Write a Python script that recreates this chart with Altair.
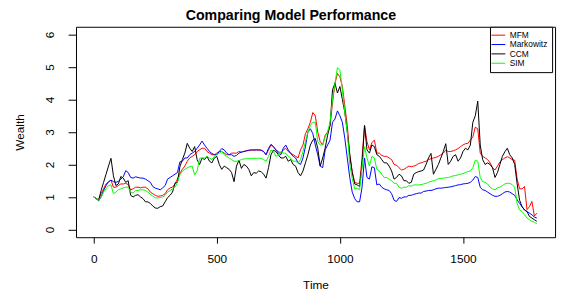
import altair as alt
import pandas as pd

# ---- data ----
# readings every 20 time steps
time_points = list(range(0, 1801, 20))

mfm = [1.00, 0.92, 1.25, 1.45, 1.30, 1.35, 1.40, 1.38, 1.25, 1.30,
       1.30, 1.25, 1.10, 1.02, 1.05, 1.22, 1.30, 1.55, 1.85, 2.10,
       2.25, 2.40, 2.50, 2.40, 2.30, 2.35, 2.40, 2.30, 2.35, 2.35,
       2.38, 2.42, 2.44, 2.45, 2.44, 2.30, 2.60, 2.45, 2.35, 2.50,
       2.35, 2.25, 2.45, 2.95, 3.30, 3.50, 2.70, 2.90, 3.20, 4.50,
       4.70, 3.80, 2.30, 1.45, 1.42, 3.20, 2.45, 2.75, 2.35, 2.25,
       2.20, 2.00, 1.90, 1.85, 1.95, 1.95, 2.03, 2.08, 2.15, 2.20,
       2.25, 2.35, 2.40, 2.42, 2.49, 2.60, 2.65, 2.85, 3.10, 2.25,
       2.15, 1.90, 1.95, 2.15, 2.24, 2.15, 1.55, 1.25, 0.61, 0.86,
       0.50]

markowitz = [1.00, 0.88, 1.20, 1.47, 1.47, 1.48, 1.62, 1.75, 1.58, 1.60,
             1.58, 1.50, 1.32, 1.25, 1.28, 1.55, 1.65, 1.75, 2.10, 2.20,
             2.35, 2.50, 2.72, 2.50, 2.34, 2.30, 2.49, 2.35, 2.30, 2.28,
             2.38, 2.42, 2.45, 2.45, 2.44, 2.30, 2.62, 2.45, 2.30, 2.60,
             2.34, 2.20, 2.00, 2.55, 3.10, 2.60, 1.95, 2.45, 2.75, 3.40,
             3.50, 2.80, 1.60, 0.95, 0.85, 2.20, 1.55, 1.90, 1.40, 1.25,
             1.20, 0.90, 0.98, 1.00, 1.05, 1.08, 1.12, 1.17, 1.20, 1.22,
             1.27, 1.28, 1.30, 1.33, 1.37, 1.40, 1.42, 1.52, 1.60, 1.22,
             1.15, 1.05, 1.02, 1.10, 1.17, 1.10, 0.91, 0.70, 0.55, 0.45,
             0.35]

ccm = [1.00, 0.90, 1.45, 1.95, 1.65, 1.40, 1.58, 1.50, 1.00, 1.07,
       0.95, 0.85, 0.72, 0.65, 0.72, 0.98, 1.15, 1.45, 2.15, 2.65,
       2.40, 2.15, 2.20, 2.25, 2.05, 2.25, 1.85, 1.90, 1.75, 1.95,
       1.88, 1.95, 1.65, 1.73, 1.78, 1.58, 2.30, 2.40, 2.20, 2.25,
       2.15, 1.95, 1.65, 2.05, 2.60, 2.80, 1.95, 2.50, 3.20, 4.50,
       4.40, 3.60, 2.30, 1.40, 1.32, 3.20, 2.35, 2.55, 2.25, 2.05,
       1.95, 1.55, 1.70, 1.50, 1.42, 1.70, 1.78, 1.83, 2.20, 1.70,
       2.00, 2.40, 2.00, 2.25, 2.10, 2.40, 2.45, 3.30, 3.95, 2.15,
       2.05, 1.90, 1.75, 2.25, 2.50, 2.20, 1.40, 0.70, 0.55, 0.35,
       0.25]

sim = [1.00, 0.90, 1.15, 1.35, 1.10, 1.22, 1.28, 1.30, 1.12, 1.20,
       1.22, 1.15, 1.03, 0.97, 1.00, 1.15, 1.25, 1.45, 1.80, 1.90,
       1.95, 1.80, 2.20, 2.25, 2.15, 2.30, 2.40, 2.25, 2.15, 2.10,
       2.15, 2.18, 2.19, 2.19, 2.19, 2.10, 2.45, 2.25, 2.40, 2.35,
       2.20, 2.10, 2.15, 2.70, 3.20, 3.30, 2.60, 2.85, 3.30, 4.50,
       4.90, 3.60, 2.00, 1.25, 1.22, 2.55, 1.95, 2.20, 1.80, 1.60,
       1.55, 1.42, 1.30, 1.30, 1.35, 1.37, 1.37, 1.40, 1.45, 1.50,
       1.57, 1.58, 1.60, 1.65, 1.68, 1.72, 1.78, 1.90, 2.10, 1.47,
       1.40, 1.25, 1.28, 1.35, 1.42, 1.38, 0.80, 0.55, 0.35, 0.25,
       0.18]

# readings in between (t = 10, 30, ..., 1790)
time_mid = list(range(10, 1800, 20))

mfm_mid = [0.95, 1.10, 1.40, 1.52, 1.30, 1.40, 1.42, 1.22, 1.30, 1.28,
           1.30, 1.15, 1.05, 1.03, 1.10, 1.28, 1.40, 1.73, 1.95, 2.20,
           2.30, 2.45, 2.50, 2.35, 2.30, 2.40, 2.35, 2.30, 2.35, 2.40,
           2.40, 2.43, 2.44, 2.44, 2.40, 2.45, 2.55, 2.40, 2.45, 2.40,
           2.30, 2.20, 2.60, 3.10, 3.60, 3.00, 2.60, 3.00, 3.90, 4.80,
           4.40, 3.20, 1.78, 1.42, 2.20, 2.70, 2.67, 2.35, 2.28, 2.25,
           2.15, 1.98, 1.83, 1.90, 1.93, 1.98, 2.05, 2.10, 2.18, 2.22,
           2.30, 2.44, 2.40, 2.45, 2.55, 2.64, 2.75, 3.15, 2.35, 2.20,
           2.05, 1.83, 2.08, 2.20, 2.20, 2.13, 1.25, 1.32, 0.70, 0.41]

markowitz_mid = [0.95, 1.00, 1.35, 1.52, 1.45, 1.55, 1.81, 1.60, 1.62, 1.58,
                 1.55, 1.45, 1.27, 1.22, 1.35, 1.60, 1.70, 2.08, 2.20, 2.30,
                 2.40, 2.60, 2.60, 2.40, 2.30, 2.40, 2.45, 2.30, 2.25, 2.35,
                 2.40, 2.44, 2.45, 2.45, 2.40, 2.50, 2.55, 2.35, 2.50, 2.45,
                 2.25, 2.05, 2.20, 3.00, 2.95, 2.30, 1.90, 2.60, 3.30, 3.65,
                 3.30, 2.20, 1.15, 0.85, 1.30, 1.60, 1.93, 1.37, 1.30, 1.22,
                 1.10, 0.86, 0.96, 1.00, 1.05, 1.10, 1.12, 1.18, 1.20, 1.25,
                 1.27, 1.29, 1.31, 1.35, 1.38, 1.41, 1.45, 1.63, 1.30, 1.20,
                 1.10, 1.02, 1.05, 1.15, 1.15, 1.05, 0.80, 0.60, 0.50, 0.38]

ccm_mid = [0.95, 1.20, 1.70, 2.19, 1.35, 1.63, 1.45, 1.05, 1.05, 1.00,
           0.85, 0.80, 0.66, 0.70, 0.85, 1.05, 1.42, 1.93, 2.35, 2.50,
           2.55, 2.00, 2.15, 2.10, 2.20, 2.00, 1.95, 1.85, 1.47, 2.13,
           2.00, 1.85, 1.75, 1.80, 1.70, 1.90, 2.44, 2.30, 2.20, 2.10,
           2.00, 1.75, 1.80, 2.30, 2.75, 2.50, 2.20, 2.90, 4.30, 4.20,
           4.00, 3.00, 1.75, 1.37, 2.00, 2.45, 2.60, 2.30, 2.15, 2.05,
           1.80, 1.60, 1.65, 1.50, 1.45, 1.75, 1.80, 2.00, 2.34, 1.85,
           2.20, 2.64, 2.10, 2.30, 2.20, 2.50, 2.60, 3.50, 2.60, 2.00,
           2.00, 1.60, 2.00, 2.39, 2.30, 2.00, 0.90, 0.60, 0.40, 0.30]

sim_mid = [0.95, 1.00, 1.25, 1.37, 1.15, 1.25, 1.30, 1.15, 1.20, 1.22,
           1.20, 1.08, 0.97, 0.98, 1.05, 1.20, 1.30, 1.68, 1.85, 1.93,
           1.68, 2.19, 2.20, 2.20, 2.25, 2.35, 2.30, 2.20, 2.10, 2.12,
           2.17, 2.18, 2.19, 2.19, 2.15, 2.25, 2.40, 2.30, 2.35, 2.25,
           2.10, 2.05, 2.40, 3.00, 3.30, 2.70, 2.60, 3.00, 4.00, 4.98,
           4.30, 3.00, 1.57, 1.27, 1.90, 2.20, 2.25, 1.85, 1.70, 1.60,
           1.50, 1.42, 1.27, 1.30, 1.33, 1.37, 1.38, 1.42, 1.48, 1.52,
           1.57, 1.59, 1.62, 1.66, 1.70, 1.75, 1.80, 2.13, 1.60, 1.45,
           1.30, 1.22, 1.30, 1.40, 1.42, 1.30, 0.60, 0.45, 0.30, 0.22]

series_names = ["MFM", "Markowitz", "CCM", "SIM"]
series_colors = ["#FF0000", "#0000FF", "#000000", "#00FF00"]
x_ticks = [0, 500, 1000, 1500]
y_ticks = [0, 1, 2, 3, 4, 5, 6]

all_series = [(mfm, mfm_mid), (markowitz, markowitz_mid), (ccm, ccm_mid), (sim, sim_mid)]
for main_vals, mid_vals in all_series:
    assert len(main_vals) == len(time_points)
    assert len(mid_vals) == len(time_mid)

rows = []
for name, (main_vals, mid_vals) in zip(series_names, all_series):
    for t, v in zip(time_points, main_vals):
        rows.append({"Time": t, "Wealth": v, "Model": name})
    for t, v in zip(time_mid, mid_vals):
        rows.append({"Time": t, "Wealth": v, "Model": name})
df = pd.DataFrame(rows).sort_values(["Model", "Time"]).reset_index(drop=True)

FONT = "Liberation Sans"
W, H = 486, 213.5

color_scale = alt.Scale(domain=series_names, range=series_colors)

x_enc = alt.X(
    "Time:Q",
    scale=alt.Scale(domain=[-72, 1874], nice=False, zero=False),
    axis=alt.Axis(values=x_ticks, format="d", title="Time", tickSize=6, labelPadding=20,
                  labelAlign="center", labelBaseline="alphabetic",
                  titleX=W / 2, titleY=48, titleBaseline="middle", titleAlign="center"),
)
y_enc = alt.Y(
    "Wealth:Q",
    scale=alt.Scale(domain=[-0.24, 6.24], nice=False, zero=False),
    axis=alt.Axis(values=y_ticks, format="d", title="Wealth", tickSize=8, labelPadding=15,
                  labelAngle=270, labelAlign="center", labelBaseline="alphabetic",
                  titleAngle=270, titleX=-57, titleY=H / 2,
                  titleBaseline="middle", titleAlign="center"),
)
c_enc = alt.Color(
    "Model:N", scale=color_scale,
    legend=alt.Legend(title=None, orient="none", legendX=420, legendY=0,
                      fillColor="white", strokeColor="black", padding=4,
                      symbolType="M-1.75,0L1.75,0", symbolSize=64, symbolStrokeWidth=1,
                      labelFontSize=8.5, labelFont=FONT, rowPadding=0.5,
                      labelOffset=7),
)

base = alt.Chart(df)
layers = [
    base.transform_filter(alt.datum.Model == name)
    .mark_line(strokeWidth=1)
    .encode(x=x_enc, y=y_enc, color=c_enc)
    for name in series_names
]

chart = (
    alt.layer(*layers)
    .properties(
        width=W, height=H,
        title=alt.TitleParams("Comparing Model Performance", font=FONT, fontSize=14.4,
                              fontWeight="bold", anchor="middle", dx=-25,
                              frame="group", offset=2.5, color="black"),
        autosize=alt.AutoSizeParams(type="none"),
        padding={"left": 69, "top": 17, "right": 4, "bottom": 52},
    )
    .configure_view(stroke="black", strokeWidth=1)
    .configure_axis(domain=False, grid=False, tickColor="black", labelColor="black",
                    labelFont=FONT, labelFontSize=12, titleFont=FONT, titleFontSize=12,
                    titleFontWeight="normal", titleColor="black", tickWidth=1)
)

chart.save("out.html", embed_options={"renderer": "svg", "actions": False})
